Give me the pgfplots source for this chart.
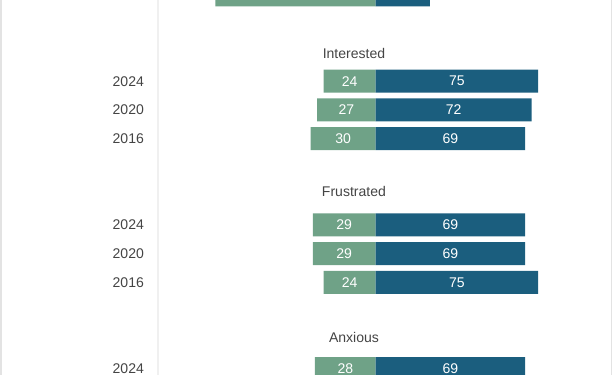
\documentclass[border=0pt]{standalone}
\usepackage{fontspec}
\setmainfont{Liberation Sans}
\usepackage{pgfplots}
\usepackage{pgfplotstable}
\pgfplotsset{compat=1.18}
\definecolor{gc}{HTML}{6FA287}
\definecolor{bc}{HTML}{1B5E7E}
\definecolor{tc}{HTML}{444444}
\pgfplotstableread{
row val lab half
0 -74 74 37
3 -24 24 12
4 -27 27 13.5
5 -30 30 15
8 -29 29 14.5
9 -29 29 14.5
10 -24 24 12
13 -28 28 14
}\greendata
\pgfplotstableread{
row val lab half
0 25 25 -12.5
3 75 75 -37.5
4 72 72 -36
5 69 69 -34.5
8 69 69 -34.5
9 69 69 -34.5
10 75 75 -37.5
13 69 69 -34.5
}\bluedata
\begin{document}
\begin{tikzpicture}
\begin{axis}[
  scale only axis,
  width=612bp, height=374bp,
  xmin=-173.61, xmax=109.72,
  ymin=0.1744, ymax=13.219,
  y dir=reverse,
  hide axis,
  clip=true,
]
\draw[color=black!11, line width=1.5bp] (axis cs:-173.1,-1) -- (axis cs:-173.1,15);
\draw[color=black!11, line width=1.5bp] (axis cs:108.8,-1) -- (axis cs:108.8,15);
\draw[color=black!6, line width=1.5bp] (axis cs:-100.5,-1) -- (axis cs:-100.5,15);
\addplot[xbar, bar shift=0pt, bar width=0.8, fill=gc, draw=none,
  point meta=explicit symbolic, nodes near coords={\pgfplotspointmeta},
  visualization depends on={\thisrow{half} \as \hv},
  every node near coord/.append style={anchor=center, text=white, font=\fontsize{14bp}{16bp}\selectfont, shift={(axis direction cs:\hv,0)}}]
  table[x=val, y=row, meta=lab] {\greendata};
\addplot[xbar, bar shift=0pt, bar width=0.8, fill=bc, draw=none,
  point meta=explicit symbolic, nodes near coords={\pgfplotspointmeta},
  visualization depends on={\thisrow{half} \as \hv},
  every node near coord/.append style={anchor=center, text=white, font=\fontsize{14bp}{16bp}\selectfont, shift={(axis direction cs:\hv,0)}}]
  table[x=val, y=row, meta=lab] {\bluedata};
\node[text=tc, font=\fontsize{14bp}{16bp}\selectfont] at (axis cs:-10,2.02) {Interested};
\node[text=tc, font=\fontsize{14bp}{16bp}\selectfont] at (axis cs:-10,6.84) {Frustrated};
\node[text=tc, font=\fontsize{14bp}{16bp}\selectfont] at (axis cs:-10,11.93) {Anxious};
\node[anchor=east, inner sep=0pt, text=tc, font=\fontsize{14bp}{16bp}\selectfont] at (axis cs:-106.9,3) {2024};
\node[anchor=east, inner sep=0pt, text=tc, font=\fontsize{14bp}{16bp}\selectfont] at (axis cs:-106.9,4) {2020};
\node[anchor=east, inner sep=0pt, text=tc, font=\fontsize{14bp}{16bp}\selectfont] at (axis cs:-106.9,5) {2016};
\node[anchor=east, inner sep=0pt, text=tc, font=\fontsize{14bp}{16bp}\selectfont] at (axis cs:-106.9,8) {2024};
\node[anchor=east, inner sep=0pt, text=tc, font=\fontsize{14bp}{16bp}\selectfont] at (axis cs:-106.9,9) {2020};
\node[anchor=east, inner sep=0pt, text=tc, font=\fontsize{14bp}{16bp}\selectfont] at (axis cs:-106.9,10) {2016};
\node[anchor=east, inner sep=0pt, text=tc, font=\fontsize{14bp}{16bp}\selectfont] at (axis cs:-106.9,13) {2024};
\end{axis}
\end{tikzpicture}
\end{document}
